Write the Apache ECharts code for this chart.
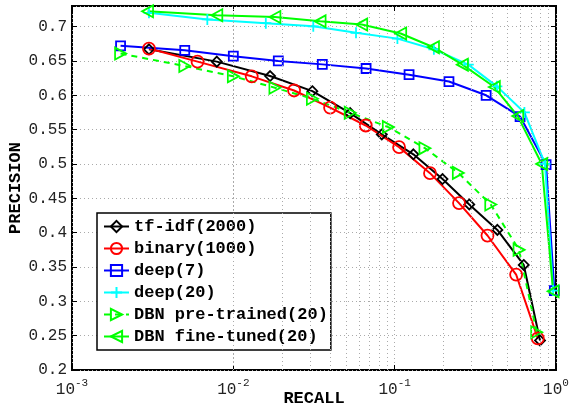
<!DOCTYPE html>
<html>
<head>
<meta charset="utf-8">
<script src="https://cdn.jsdelivr.net/npm/echarts@6/dist/echarts.min.js"></script>
<style>
html, body { margin: 0; padding: 0; background: #fff; }
#chart { width: 571px; height: 407px; }
</style>
</head>
<body>
<div id="chart"></div>
<script>
const tfidfRecall = [0.003, 0.0079, 0.0169, 0.0309, 0.053, 0.0832, 0.1306, 0.198, 0.29, 0.433, 0.631, 0.796];
const tfidfPrec = [0.667, 0.649, 0.628, 0.606, 0.574, 0.543, 0.514, 0.478, 0.441, 0.404, 0.353, 0.243];

const binaryRecall = [0.003, 0.006, 0.013, 0.0238, 0.0398, 0.0662, 0.1065, 0.1656, 0.2506, 0.376, 0.566, 0.771];
const binaryPrec = [0.668, 0.649, 0.6276, 0.607, 0.582, 0.556, 0.5245, 0.4866, 0.443, 0.3958, 0.339, 0.246];

const deep7Recall = [0.002, 0.005, 0.01, 0.019, 0.0356, 0.0665, 0.1228, 0.217, 0.369, 0.599, 0.868, 0.977];
const deep7Prec = [0.672, 0.6655, 0.657, 0.65, 0.645, 0.639, 0.63, 0.62, 0.6, 0.569, 0.499, 0.3156];

const deep20Recall = [0.003, 0.0069, 0.0159, 0.0313, 0.0576, 0.104, 0.175, 0.286, 0.43, 0.637, 0.855, 0.96];
const deep20Prec = [0.72, 0.7104, 0.705, 0.7004, 0.691, 0.6825, 0.667, 0.6446, 0.613, 0.575, 0.5, 0.3156];

const preRecall = [0.002, 0.005, 0.01, 0.0181, 0.0309, 0.053, 0.0913, 0.154, 0.248, 0.394, 0.59, 0.759];
const prePrec = [0.6607, 0.6426, 0.6276, 0.611, 0.595, 0.5746, 0.5537, 0.523, 0.487, 0.441, 0.375, 0.255];

const fineRecall = [0.00294, 0.0079, 0.0181, 0.0345, 0.0625, 0.109, 0.174, 0.263, 0.415, 0.579, 0.816, 0.96];
const finePrec = [0.7223, 0.7165, 0.714, 0.7077, 0.703, 0.69, 0.67, 0.6446, 0.612, 0.5697, 0.5, 0.3146];

// minor log grid positions (2..9 x 10^k)
const minorX = [];
[0.001, 0.01, 0.1].forEach(function (d) {
    for (let k = 2; k <= 9; k++) minorX.push(+(k * d).toPrecision(3));
});

function pairs(xs, ys) {
    return xs.map(function (x, i) { return [x, ys[i]]; });
}

const font = 'Liberation Mono, Courier New, monospace';
const gridLine = { show: true, lineStyle: { color: '#aaa', type: [1, 3], width: 1 } };

function mkSeries(name, color, symbol, size, xs, ys, opts) {
    return Object.assign({
        name: name,
        type: 'line',
        data: pairs(xs, ys),
        symbol: symbol,
        symbolSize: size,
        showAllSymbol: true,
        lineStyle: { color: color, width: 2 },
        itemStyle: { color: 'none', borderColor: color, borderWidth: 1.8 },
        emphasis: { disabled: true },
        animation: false,
    }, opts || {});
}

const chart = echarts.init(document.getElementById('chart'));
const option = {
    animation: false,
    grid: {
        left: 72,
        right: 15,
        top: 6,
        bottom: 37,
        outerBoundsMode: 'none',
        containLabel: false,
        show: true,
        borderColor: '#000',
        borderWidth: 2,
    },
    legend: {
        left: 97,
        top: 213,
        orient: 'vertical',
        itemWidth: 25,
        itemHeight: 14,
        itemGap: 5,
        padding: [5, 3, 5, 6],
        backgroundColor: '#fff',
        borderColor: '#000',
        borderWidth: 1.5,
        borderRadius: 0,
        textStyle: { fontFamily: font, fontWeight: 'bold', fontSize: 17, color: '#000' },
    },
    xAxis: [
        {
            type: 'log',
            logBase: 10,
            min: 0.001,
            max: 1,
            name: 'RECALL',
            nameLocation: 'middle',
            nameGap: 20,
            nameMoveOverlap: false,
            nameTextStyle: { fontFamily: font, fontWeight: 'bold', fontSize: 17, color: '#000' },
            axisLine: { show: false },
            axisTick: { inside: true, length: 5, lineStyle: { color: '#000' } },
            splitLine: gridLine,
            axisLabel: {
                margin: 8,
                formatter: function (v) {
                    return '{b|10}{s|' + Math.round(Math.log10(v)) + '}';
                },
                rich: {
                    b: { fontFamily: font, fontSize: 16, color: '#222' },
                    s: { fontFamily: font, fontSize: 11, color: '#222', padding: [0, 0, 12, 0] },
                },
            },
        },
        {
            type: 'log',
            logBase: 10,
            min: 0.001,
            max: 1,
            position: 'top',
            axisLine: { show: false },
            axisTick: { inside: true, length: 5, lineStyle: { color: '#000' } },
            axisLabel: { show: false },
            splitLine: { show: false },
        },
    ],
    yAxis: [
        {
            type: 'value',
            min: 0.2,
            max: 0.73,
            interval: 0.05,
            name: 'PRECISION',
            nameLocation: 'middle',
            nameGap: 48,
            nameMoveOverlap: false,
            nameTextStyle: { fontFamily: font, fontWeight: 'bold', fontSize: 17, color: '#000' },
            axisLine: { show: false },
            axisTick: { inside: true, length: 5, lineStyle: { color: '#000' } },
            splitLine: gridLine,
            axisLabel: {
                showMaxLabel: false,
                margin: 5,
                fontFamily: font,
                fontSize: 16,
                color: '#222',
            },
        },
        {
            type: 'value',
            min: 0.2,
            max: 0.73,
            interval: 0.05,
            position: 'right',
            axisLine: { show: false },
            axisTick: { inside: true, length: 5, lineStyle: { color: '#000' } },
            axisLabel: { show: false },
            splitLine: { show: false },
        },
    ],
    series: [
        {
            type: 'line',
            data: [],
            silent: true,
            markLine: {
                silent: true,
                symbol: 'none',
                label: { show: false },
                animation: false,
                lineStyle: { color: '#aaa', type: [1, 3], width: 1 },
                data: minorX.map(function (x) { return { xAxis: x }; }),
            },
        },
        mkSeries('tf-idf(2000)', '#000000', 'diamond', 10, tfidfRecall, tfidfPrec),
        mkSeries('binary(1000)', '#ff0000', 'circle', 12, binaryRecall, binaryPrec),
        mkSeries('deep(7)', '#0000ff', 'rect', 9, deep7Recall, deep7Prec),
        mkSeries('deep(20)', '#00ffff', 'path://M5,0L5,10M0,5L10,5', 11, deep20Recall, deep20Prec),
        mkSeries('DBN pre-trained(20)', '#00ff00', 'triangle', [12, 11], preRecall, prePrec, {
            symbolRotate: -90,
            lineStyle: { color: '#00ff00', width: 2, type: [6, 5] },
        }),
        mkSeries('DBN fine-tuned(20)', '#00ff00', 'triangle', [12, 11], fineRecall, finePrec, {
            symbolRotate: 90,
        }),
    ],
};
chart.setOption(option);
window.addEventListener('resize', chart.resize);
</script>
</body>
</html>
